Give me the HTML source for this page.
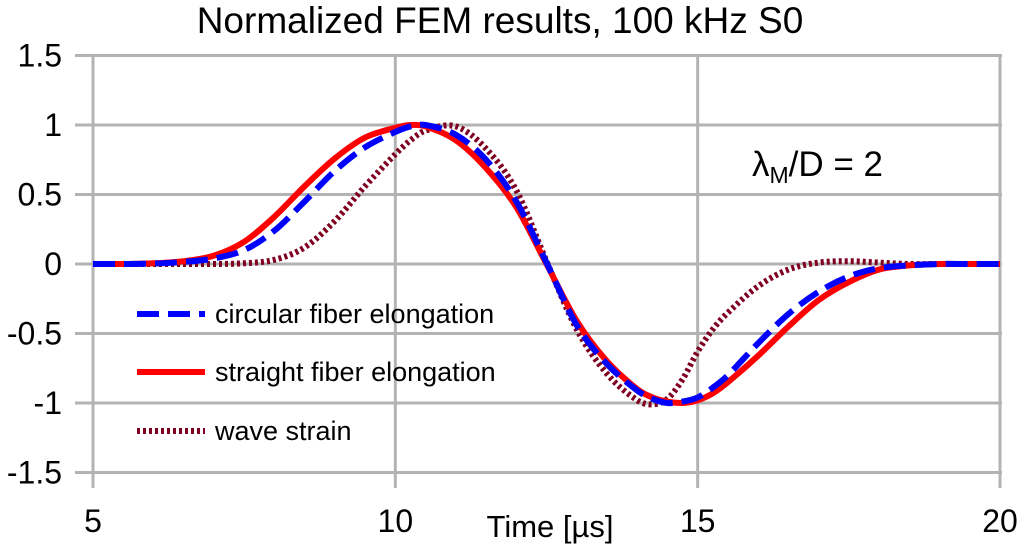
<!DOCTYPE html>
<html><head><meta charset="utf-8"><style>
body{margin:0;background:#fff}
svg{display:block;font-family:"Liberation Sans",sans-serif}
</style></head><body>
<svg id="chart" width="1024" height="552" viewBox="0 0 1024 552">
<text x="500" y="33" font-size="37" text-anchor="middle">Normalized FEM results, 100 kHz S0</text>
<g id="grid"></g>
<g id="series"></g>
<text x="752" y="176" font-size="35">λ<tspan font-size="23" dy="7">M</tspan><tspan dy="-7">/D = 2</tspan></text>
<text x="550" y="537" font-size="31" text-anchor="middle">Time [µs]</text>
<g>
<line x1="137" y1="314" x2="205" y2="314" stroke="#0000ff" stroke-width="6" stroke-dasharray="22,9"/>
<text x="215" y="323" font-size="27">circular fiber elongation</text>
<line x1="137" y1="372" x2="205" y2="372" stroke="#ff0000" stroke-width="6"/>
<text x="215" y="381" font-size="27">straight fiber elongation</text>
<line x1="137" y1="431" x2="205" y2="431" stroke="#7f0020" stroke-width="6" stroke-dasharray="3,3"/>
<text x="215" y="440" font-size="27">wave strain</text>
</g>
</svg>
<script>
const tVals=[5,5.5,6,6.5,7,7.5,8,8.5,9,9.5,10,10.25,10.5,11,11.5,12,12.5,13,13.5,14,14.25,14.5,14.75,15,15.25,15.5,16,16.5,17,17.5,18,18.5,19,19.5,20];
const straightVals=[0,0,0.005,0.02,0.06,0.16,0.34,0.56,0.76,0.91,0.98,1.0,0.99,0.89,0.69,0.41,0,-0.41,-0.70,-0.90,-0.96,-0.99,-1.0,-0.98,-0.93,-0.85,-0.66,-0.45,-0.26,-0.13,-0.04,-0.01,0,0,0];
const circularVals=[0,0,0.003,0.015,0.04,0.10,0.24,0.45,0.67,0.84,0.95,0.99,1.0,0.93,0.75,0.45,0.01,-0.44,-0.72,-0.91,-0.97,-1.0,-0.99,-0.96,-0.89,-0.8,-0.57,-0.36,-0.2,-0.09,-0.03,-0.01,0,0,0];
const waveVals=[0,0,0,0,0,0.005,0.03,0.12,0.31,0.56,0.79,0.89,0.96,0.99,0.83,0.53,0.02,-0.47,-0.79,-0.98,-1.01,-0.97,-0.83,-0.63,-0.47,-0.35,-0.16,-0.04,0.01,0.02,0.01,0,0,0,0];
const xTicks=[5,10,15,20];
const yTicks=[1.5,1,0.5,0,-0.5,-1,-1.5];
const NS='http://www.w3.org/2000/svg';
function X(v){return 93+(v-5)*(1000-93)/15;}
function Y(v){return 264-v*139;}
const grid=document.getElementById('grid');
yTicks.forEach(v=>{
 const l=document.createElementNS(NS,'line');
 l.setAttribute('x1',75);l.setAttribute('x2',1002);l.setAttribute('y1',Y(v));l.setAttribute('y2',Y(v));
 l.setAttribute('stroke','#b3b3b3');l.setAttribute('stroke-width','3');
 
 
 grid.appendChild(l);
 const t=document.createElementNS(NS,'text');
 t.setAttribute('x',62);t.setAttribute('y',Y(v)+11);t.setAttribute('font-size','32');t.setAttribute('text-anchor','end');
 t.textContent=String(v);
 
 
 grid.appendChild(t);
});
xTicks.forEach(v=>{
 const l=document.createElementNS(NS,'line');
 l.setAttribute('x1',X(v));l.setAttribute('x2',X(v));l.setAttribute('y1',56);l.setAttribute('y2',488);
 l.setAttribute('stroke','#b3b3b3');l.setAttribute('stroke-width','3');
 
 
 grid.appendChild(l);
 const t=document.createElementNS(NS,'text');
 t.setAttribute('x',X(v));t.setAttribute('y',532);t.setAttribute('font-size','32');t.setAttribute('text-anchor','middle');
 t.textContent=String(v);
 
 
 grid.appendChild(t);
});
function pathFor(vals){
 const p=tVals.map((t,i)=>[X(t),Y(vals[i])]);
 let d='M'+p[0][0]+','+p[0][1];
 for(let i=0;i<p.length-1;i++){
  const p0=p[Math.max(0,i-1)],p1=p[i],p2=p[i+1],p3=p[Math.min(p.length-1,i+2)];
  const h=p2[0]-p1[0];
  const m1=(p2[1]-p0[1])/(p2[0]-p0[0]||1), m2=(p3[1]-p1[1])/(p3[0]-p1[0]||1);
  const c1=[p1[0]+h/3,p1[1]+m1*h/3];
  const c2=[p2[0]-h/3,p2[1]-m2*h/3];
  d+=' C'+c1+' '+c2+' '+p2;
 }
 return d;
}
const series=document.getElementById('series');
function addSeries(vals,color,dash,name){
 const pa=document.createElementNS(NS,'path');
 pa.setAttribute('d',pathFor(vals));
 pa.setAttribute('fill','none');pa.setAttribute('stroke',color);pa.setAttribute('stroke-width','6');
 if(dash)pa.setAttribute('stroke-dasharray',dash);
 
 
 series.appendChild(pa);
}
addSeries(waveVals,'#7f0020','3,3','wave-strain-line');
addSeries(straightVals,'#ff0000',null,'straight-fiber-line');
addSeries(circularVals,'#0000ff','22,9','circular-fiber-line');
</script>
</body></html>
